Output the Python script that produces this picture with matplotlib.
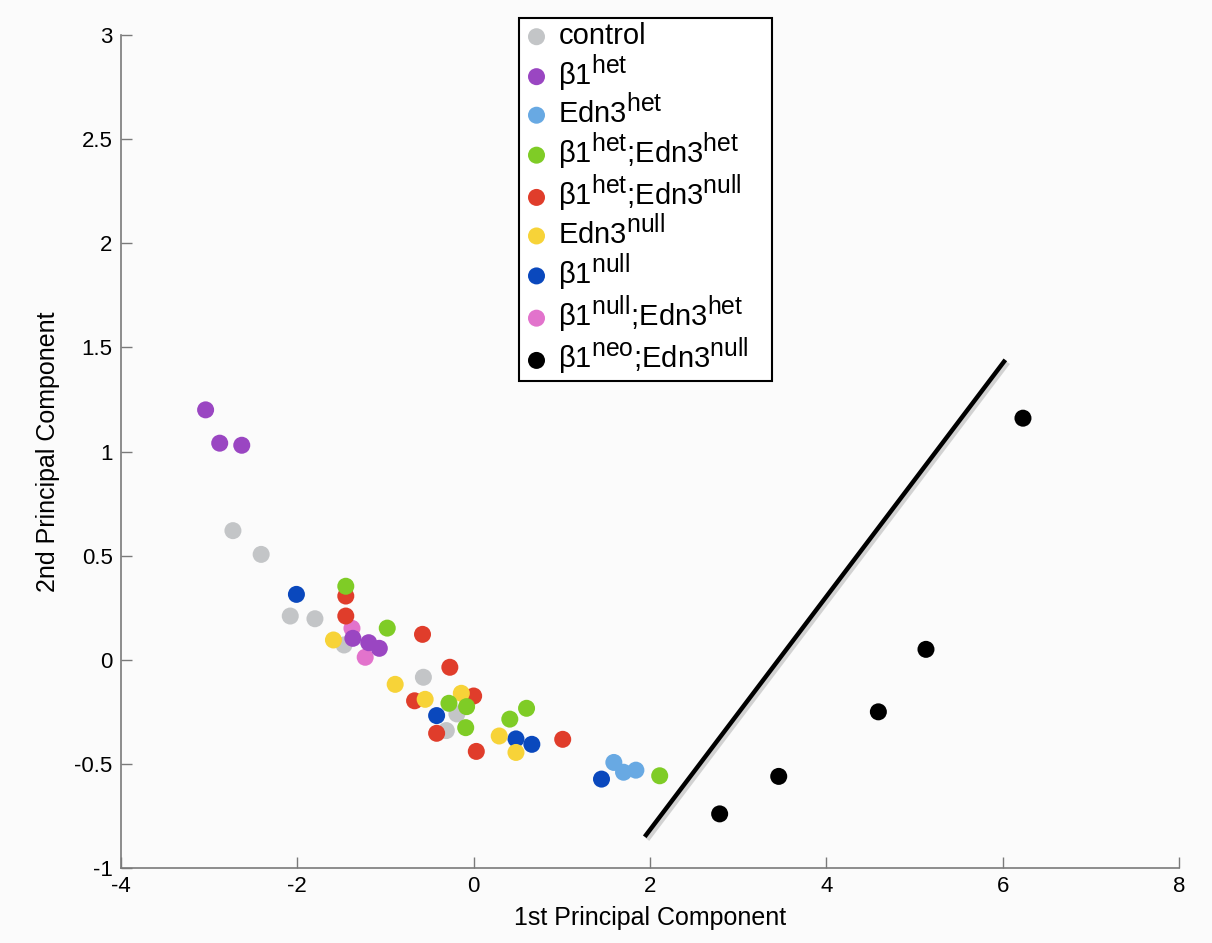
import matplotlib
matplotlib.use("Agg")
import matplotlib.pyplot as plt
import matplotlib.patheffects as pe
import matplotlib._mathtext as mtext

plt.rcParams['font.family'] = ['Liberation Sans', 'DejaVu Sans']
plt.rcParams['mathtext.fontset'] = 'custom'
plt.rcParams['mathtext.rm'] = 'Liberation Sans'
plt.rcParams['mathtext.it'] = 'Liberation Sans:italic'
# superscripts in the original are nearly full size
mtext.SHRINK_FACTOR = 0.85

# data (1st PC, 2nd PC) per group
control_x = [-2.73, -2.41, -2.08, -1.80, -1.47, -0.57, -0.19, -0.31]
control_y = [0.62, 0.506, 0.21, 0.197, 0.071, -0.084, -0.26, -0.34]

b1het_x = [-3.04, -2.88, -2.63, -1.37, -1.19, -1.07]
b1het_y = [1.2, 1.04, 1.03, 0.103, 0.082, 0.055]

edn3het_x = [1.59, 1.70, 1.84]
edn3het_y = [-0.493, -0.54, -0.53]

b1het_edn3het_x = [-1.45, -0.98, -0.28, -0.08, -0.09, 0.41, 0.60, 2.11]
b1het_edn3het_y = [0.353, 0.152, -0.209, -0.225, -0.326, -0.285, -0.233, -0.557]

b1het_edn3null_x = [-1.45, -1.45, -0.58, -0.27, -0.67, 0.0, -0.42, 0.03, 1.01]
b1het_edn3null_y = [0.306, 0.21, 0.122, -0.036, -0.197, -0.174, -0.353, -0.44, -0.382]

edn3null_x = [-1.59, -0.89, -0.55, -0.14, 0.29, 0.48]
edn3null_y = [0.095, -0.118, -0.19, -0.161, -0.366, -0.445]

b1null_x = [-2.01, -0.42, 0.48, 0.66, 1.45]
b1null_y = [0.314, -0.268, -0.38, -0.406, -0.573]

b1null_edn3het_x = [-1.38, -1.23]
b1null_edn3het_y = [0.151, 0.012]

b1neo_edn3null_x = [2.79, 3.46, 4.59, 5.13, 6.23]
b1neo_edn3null_y = [-0.74, -0.56, -0.25, 0.05, 1.16]

sep_x = [1.94, 6.03]
sep_y = [-0.85, 1.44]

xticks = [-4, -2, 0, 2, 4, 6, 8]
xticklabels = ['-4', '-2', '0', '2', '4', '6', '8']
yticks = [-1, -0.5, 0, 0.5, 1, 1.5, 2, 2.5, 3]
yticklabels = ['-1', '-0.5', '0', '0.5', '1', '1.5', '2', '2.5', '3']

# legend order, colour, drawing order
groups = [
    ('control', control_x, control_y, '#c3c5c7', 2),
    ('β1$^{\\mathrm{het}}$', b1het_x, b1het_y, '#9a46c2', 9),
    ('Edn3$^{\\mathrm{het}}$', edn3het_x, edn3het_y, '#68a9e3', 5),
    ('β1$^{\\mathrm{het}}$;Edn3$^{\\mathrm{het}}$', b1het_edn3het_x, b1het_edn3het_y, '#7fcc26', 7),
    ('β1$^{\\mathrm{het}}$;Edn3$^{\\mathrm{null}}$', b1het_edn3null_x, b1het_edn3null_y, '#e03d2b', 4),
    ('Edn3$^{\\mathrm{null}}$', edn3null_x, edn3null_y, '#f7d338', 6),
    ('β1$^{\\mathrm{null}}$', b1null_x, b1null_y, '#0a48bd', 3),
    ('β1$^{\\mathrm{null}}$;Edn3$^{\\mathrm{het}}$', b1null_edn3het_x, b1null_edn3het_y, '#e273cc', 3),
    ('β1$^{\\mathrm{neo}}$;Edn3$^{\\mathrm{null}}$', b1neo_edn3null_x, b1neo_edn3null_y, '#000000', 8),
]

bg = '#fbfbfb'
fig = plt.figure(figsize=(12.12, 9.43), dpi=100, facecolor=bg)
ax = fig.add_axes([0.0998, 0.0795, 0.873, 0.8834])
ax.set_facecolor(bg)

for label, xs, ys, col, z in groups:
    ax.scatter(xs, ys, s=150, color=col, edgecolors='none', label=label, zorder=z)

ax.plot(sep_x, sep_y, color='black', lw=3.2, solid_capstyle='butt', zorder=10,
        path_effects=[pe.SimpleLineShadow(offset=(2, -2), shadow_color='#888888', alpha=0.35),
                      pe.Normal()])

ax.set_xlim(-4, 8)
ax.set_ylim(-1, 3)
ax.set_xticks(xticks)
ax.set_xticklabels(xticklabels)
ax.set_yticks(yticks)
ax.set_yticklabels(yticklabels)

for s in ['top', 'right']:
    ax.spines[s].set_visible(False)
for s in ['left', 'bottom']:
    ax.spines[s].set_color('#7a7a7a')
    ax.spines[s].set_linewidth(1.2)
ax.tick_params(direction='in', length=8, width=1, color='#7a7a7a', labelsize=16, pad=6)

ax.set_xlabel('1st Principal Component', fontsize=18, labelpad=6)
ax.set_ylabel('2nd Principal Component', fontsize=18, labelpad=10)

leg_top = 1 - 18 / 943
leg = fig.legend(loc='upper left', bbox_to_anchor=(519 / 1212, 0.5, 253 / 1212, leg_top - 0.5),
                 mode='expand', fontsize=21, frameon=True, fancybox=False, edgecolor='black',
                 facecolor='white', framealpha=1, handlelength=0.9, handletextpad=0.3,
                 labelspacing=0.06, borderpad=0.15, borderaxespad=0, markerscale=1.0)
leg.get_frame().set_linewidth(1.5)

fig.savefig('out.png', dpi=100, facecolor=bg)
